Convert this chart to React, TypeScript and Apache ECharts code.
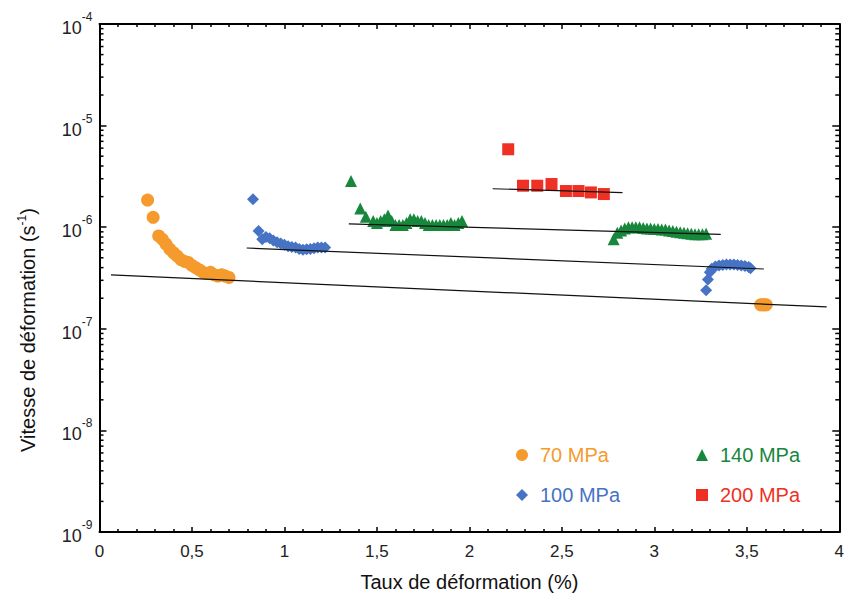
import React, { useEffect, useRef } from "react";
import * as echarts from "echarts";

// ---- Data ----
const series70X = [0.26, 0.29, 0.32, 0.34, 0.36, 0.38, 0.40, 0.42, 0.44, 0.46, 0.48, 0.50, 0.52, 0.54, 0.56, 0.58, 0.60, 0.62, 0.64, 0.66, 0.68, 0.70, 3.575, 3.585, 3.595, 3.605];
const series70Y = [1.85e-6, 1.25e-6, 8.2e-7, 7.6e-7, 6.8e-7, 6.1e-7, 5.6e-7, 5.2e-7, 4.8e-7, 4.6e-7, 4.5e-7, 4.2e-7, 4.0e-7, 3.8e-7, 3.6e-7, 3.5e-7, 3.6e-7, 3.4e-7, 3.3e-7, 3.4e-7, 3.3e-7, 3.2e-7, 1.72e-7, 1.72e-7, 1.72e-7, 1.72e-7];

const series100X = [0.83, 0.86, 0.88, 0.90, 0.92, 0.94, 0.96, 0.98, 1.00, 1.02, 1.04, 1.06, 1.08, 1.10, 1.12, 1.14, 1.16, 1.18, 1.20, 1.22, 3.28, 3.29, 3.30, 3.31, 3.33, 3.35, 3.37, 3.39, 3.41, 3.43, 3.45, 3.47, 3.49, 3.51, 3.52];
const series100Y = [1.88e-6, 9.2e-7, 7.6e-7, 8.0e-7, 7.8e-7, 7.4e-7, 7.1e-7, 6.9e-7, 6.7e-7, 6.5e-7, 6.4e-7, 6.3e-7, 6.1e-7, 6.0e-7, 6.05e-7, 6.1e-7, 6.2e-7, 6.3e-7, 6.3e-7, 6.3e-7, 2.4e-7, 3.05e-7, 3.6e-7, 3.9e-7, 4.1e-7, 4.2e-7, 4.25e-7, 4.3e-7, 4.3e-7, 4.3e-7, 4.25e-7, 4.2e-7, 4.15e-7, 4.05e-7, 3.95e-7];

const series140X = [1.36, 1.41, 1.44, 1.48, 1.50, 1.52, 1.54, 1.56, 1.58, 1.60, 1.62, 1.64, 1.66, 1.68, 1.70, 1.72, 1.74, 1.76, 1.78, 1.80, 1.82, 1.84, 1.86, 1.88, 1.90, 1.92, 1.94, 1.96, 2.78, 2.80, 2.82, 2.84, 2.86, 2.88, 2.90, 2.92, 2.94, 2.96, 2.98, 3.00, 3.02, 3.04, 3.06, 3.08, 3.10, 3.12, 3.14, 3.16, 3.18, 3.20, 3.22, 3.24, 3.26, 3.28];
const series140Y = [2.85e-6, 1.53e-6, 1.27e-6, 1.15e-6, 1.1e-6, 1.15e-6, 1.2e-6, 1.3e-6, 1.15e-6, 1.05e-6, 1.05e-6, 1.05e-6, 1.1e-6, 1.2e-6, 1.2e-6, 1.15e-6, 1.15e-6, 1.1e-6, 1.05e-6, 1.05e-6, 1.05e-6, 1.05e-6, 1.05e-6, 1.05e-6, 1.1e-6, 1.05e-6, 1.1e-6, 1.15e-6, 7.6e-7, 8.8e-7, 9.3e-7, 9.7e-7, 1.0e-6, 1.0e-6, 1.0e-6, 1.0e-6, 9.8e-7, 9.7e-7, 9.7e-7, 9.6e-7, 9.6e-7, 9.5e-7, 9.5e-7, 9.3e-7, 9.2e-7, 9.0e-7, 8.9e-7, 8.8e-7, 8.7e-7, 8.6e-7, 8.5e-7, 8.5e-7, 8.5e-7, 8.6e-7];

const series200X = [2.21, 2.29, 2.367, 2.444, 2.522, 2.59, 2.657, 2.727];
const series200Y = [5.85e-6, 2.56e-6, 2.56e-6, 2.66e-6, 2.27e-6, 2.27e-6, 2.2e-6, 2.12e-6];

// Fitted lines (start and end points)
const fit70X = [0.062, 3.932];
const fit70Y = [3.39e-7, 1.64e-7];
const fit100X = [0.796, 3.592];
const fit100Y = [6.24e-7, 3.88e-7];
const fit140X = [1.348, 3.359];
const fit140Y = [1.08e-6, 8.5e-7];
const fit200X = [2.126, 2.828];
const fit200Y = [2.39e-6, 2.19e-6];

// Axis ticks
const xTickLabels = ["0", "0,5", "1", "1,5", "2", "2,5", "3", "3,5", "4"];
const yDecades = [-9, -8, -7, -6, -5];
const yMinorMultipliers = [2, 3, 4, 5, 6, 7, 8, 9];

const names = ["70 MPa", "100 MPa", "140 MPa", "200 MPa"];
const colors = ["#F59B2E", "#4673C4", "#17873C", "#EE3124"];
const symbols = ["circle", "diamond", "triangle", "rect"];

const zip = (xs: number[], ys: number[]) => xs.map((x, i) => [x, ys[i]]);

const FONT = "'Liberation Sans', Arial, sans-serif";

export default function App() {
  const ref = useRef<HTMLDivElement>(null);
  useEffect(() => {
    document.body.style.margin = "0";
    if (!ref.current) return;
    const chart = echarts.init(ref.current, null, { renderer: "svg" });

    const minorTickData: number[][] = [];
    yDecades.forEach((d) => yMinorMultipliers.forEach((m) => minorTickData.push([0, m * Math.pow(10, d)])));

    const axisLine = { show: true, onZero: false, lineStyle: { color: "#000", width: 2 } };
    const xCommon = {
      type: "value" as const,
      min: 0,
      max: 4,
      interval: 0.5,
      axisLine,
      axisTick: { show: true, inside: true, length: 5, lineStyle: { color: "#000", width: 1.5 } },
      minorTick: { show: true, splitNumber: 5, length: 3, lineStyle: { color: "#000", width: 1.5 } },
      splitLine: { show: false },
      minorSplitLine: { show: false },
    };
    const yCommon = {
      type: "log" as const,
      logBase: 10,
      min: 1e-9,
      max: 1e-4,
      axisLine,
      axisTick: { show: true, inside: true, length: 7, lineStyle: { color: "#000", width: 1.5 } },
      splitLine: { show: false },
    };

    const scatter = (i: number, data: number[][], size: number) => ({
      name: names[i],
      type: "scatter",
      data,
      symbol: symbols[i],
      symbolSize: size,
      itemStyle: { color: colors[i], opacity: 1 },
      z: 2,
    });
    const fit = (name: string, data: number[][]) => ({
      name,
      type: "line",
      data,
      symbol: "none",
      lineStyle: { color: "#111", width: 1.2 },
      z: 3,
      silent: true,
    });

    const legendCommon = {
      orient: "vertical" as const,
      top: 440,
      itemWidth: 12,
      itemHeight: 12,
      itemGap: 20,
      selectedMode: false,
      textStyle: { fontFamily: FONT, fontSize: 20, padding: [0, 0, 0, 7] },
    };

    chart.setOption({
      animation: false,
      backgroundColor: "#fff",
      grid: { left: 99.5, right: 6.5, top: 24, bottom: 67, containLabel: false },
      xAxis: [
        {
          ...xCommon,
          position: "bottom",
          name: "Taux de déformation (%)",
          nameLocation: "middle",
          nameGap: 40,
          nameTextStyle: { fontFamily: FONT, fontSize: 20, color: "#111" },
          axisLabel: {
            margin: 11,
            fontFamily: FONT,
            fontSize: 17,
            color: "#222",
            formatter: (v: number) => xTickLabels[Math.round(v / 0.5)] ?? "",
          },
        },
        { ...xCommon, position: "top", axisLabel: { show: false } },
      ],
      yAxis: [
        {
          ...yCommon,
          position: "left",
          axisLabel: {
            margin: 7,
            formatter: (v: number) => `{b|10}{s|${Math.round(Math.log10(v))}}`,
            rich: {
              b: { fontFamily: FONT, fontSize: 18, color: "#222", lineHeight: 26, verticalAlign: "bottom" },
              s: { fontFamily: FONT, fontSize: 12, color: "#222", lineHeight: 12, verticalAlign: "top" },
            },
          },
        },
        { ...yCommon, position: "right", axisLabel: { show: false } },
      ],
      legend: [
        {
          ...legendCommon,
          left: 511,
          data: [
            { name: names[0], textStyle: { color: colors[0] } },
            { name: names[1], textStyle: { color: colors[1] } },
          ],
        },
        {
          ...legendCommon,
          left: 691,
          data: [
            { name: names[2], textStyle: { color: colors[2] } },
            { name: names[3], textStyle: { color: colors[3] } },
          ],
        },
      ],
      graphic: [
        {
          type: "text",
          x: 28,
          y: 330,
          rotation: Math.PI / 2,
          style: {
            text: "Vitesse de déformation (s{s|-1})",
            fontFamily: FONT,
            fontSize: 20,
            fill: "#111",
            align: "center",
            verticalAlign: "middle",
            lineHeight: 24,
            rich: {
              s: { fontFamily: FONT, fontSize: 12, fill: "#111", lineHeight: 12, verticalAlign: "top" },
            },
          },
        },
      ],
      series: [
        scatter(0, zip(series70X, series70Y), 13),
        scatter(1, zip(series100X, series100Y), 12),
        scatter(2, zip(series140X, series140Y), 12),
        scatter(3, zip(series200X, series200Y), 12),
        fit("fit70", zip(fit70X, fit70Y)),
        fit("fit100", zip(fit100X, fit100Y)),
        fit("fit140", zip(fit140X, fit140Y)),
        fit("fit200", zip(fit200X, fit200Y)),
        {
          name: "minorTicks",
          type: "custom",
          silent: true,
          data: minorTickData,
          renderItem: (_p: any, api: any) => {
            const v = api.value(1);
            const l = api.coord([0, v]);
            const r = api.coord([4, v]);
            const st = { stroke: "#000", lineWidth: 1.5 };
            return {
              type: "group",
              children: [
                { type: "line", shape: { x1: l[0], y1: l[1], x2: l[0] + 4, y2: l[1] }, style: st },
                { type: "line", shape: { x1: r[0], y1: r[1], x2: r[0] - 4, y2: r[1] }, style: st },
              ],
            };
          },
          z: 5,
        },
      ],
    });
    return () => chart.dispose();
  }, []);
  return <div ref={ref} style={{ width: 847, height: 599 }} />;
}
